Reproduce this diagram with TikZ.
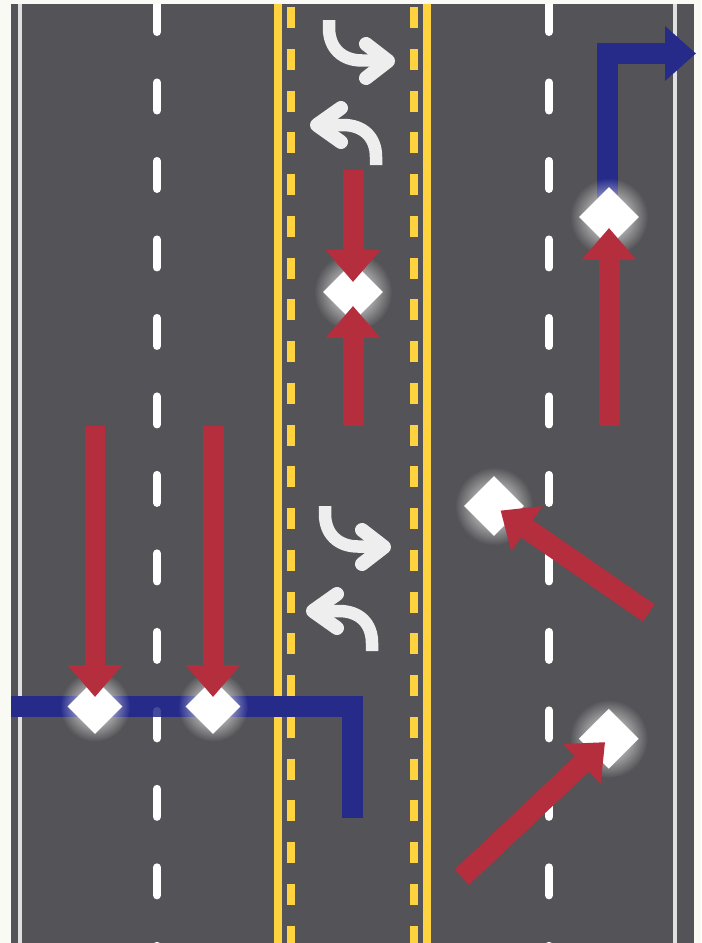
\documentclass[tikz,border=0pt]{standalone}
\usepackage{xcolor}
\usetikzlibrary{arrows.meta,shapes.geometric,fadings}
\definecolor{roadgray}{HTML}{545357}
\definecolor{roadbg}{HTML}{FAFAF5}
\definecolor{laneyellow}{HTML}{FFD23F}
\definecolor{turnwhite}{HTML}{EEEEEE}
\definecolor{conflictred}{HTML}{B42E3D}
\definecolor{movesblue}{HTML}{262B8A}
\tikzfading[name=glowfade, inner color=transparent!0, outer color=transparent!100]
\tikzstyle{edgeline} = [line width=0.07cm, white!88!black]
\tikzstyle{centerline} = [line width=0.16cm, laneyellow]
\tikzstyle{turndash} = [line width=0.15cm, laneyellow, dash pattern=on 0.42cm off 0.4154cm]
\tikzstyle{lanedash} = [line width=0.16cm, white, line cap=round, dash pattern=on 0.56cm off 1.01cm]
\tikzstyle{turnarrow} = [line width=0.25cm, turnwhite, line cap=butt]
\tikzstyle{turnhead} = [line width=0.28cm, turnwhite, line cap=round, line join=round]
\tikzstyle{redarrow} = [-{Triangle[length=0.64cm,width=1.06cm]}, line width=0.42cm, conflictred]
\tikzstyle{bluearrow} = [line width=0.42cm, movesblue, miter limit=10]
\tikzstyle{conflict} = [diamond, fill=white, inner sep=0pt, minimum width=1.2cm, minimum height=1.2cm]
\tikzstyle{conflictsm} = [conflict, minimum width=1.1cm, minimum height=1.1cm]
\begin{document}
\begin{tikzpicture}[x=0.02cm, y=-0.02cm]
\useasboundingbox (0,0) rectangle (701,943);
\fill[roadbg] (0,0) rectangle (701,943);
\fill[roadgray] (11,4) rectangle (694,943);

\begin{scope}
\clip (11,4) rectangle (694,943);
\draw[edgeline] (20,4) -- (20,943);
\draw[edgeline] (675,4) -- (675,943);
\foreach \x in {157,549}{
  \draw[lanedash] (\x,4) -- (\x,960);
}
\foreach \x in {278,427}{
  \draw[centerline] (\x,4) -- (\x,943);
}
\foreach \x in {291,414}{
  \draw[turndash] (\x,7) -- (\x,960);
}
\end{scope}

% two way left turn markings
\foreach \dx/\dy in {0/0,-4/486}{
  \begin{scope}[shift={(\dx,\dy)}]
  \draw[turnarrow] (329,20) -- (329,28) .. controls (329,48) and (342,60.5) .. (362,60.5) -- (386,60.5);
  \draw[turnhead] (366,44) -- (388,61) -- (366,78);
  \draw[turnarrow] (376,165) -- (376,157) .. controls (376,137) and (363,125) .. (343,125) -- (319,125);
  \draw[turnhead] (341,108) -- (317,125) -- (341,142);
  \end{scope}
}

% through movements
\coordinate (bluea) at (11,706.5);
\coordinate (blueb) at (352.5,706.5);
\coordinate (bluec) at (352.5,818);
\coordinate (blued) at (607.5,217);
\coordinate (bluee) at (607.5,53.5);
\coordinate (bluef) at (696,53.5);
\draw[bluearrow] (bluea) -- (blueb) -- (bluec);
\draw[bluearrow, -{Triangle[length=0.62cm,width=1.06cm]}] (blued) -- (bluee) -- (bluef);
\draw[lanedash, opacity=.15] (157,711) -- (157,717);

% conflict points
\foreach \name/\x/\y/\r/\sty in {mid/353/292/39/conflict,topright/609/217/39/conflict,drive/494/506/39/conflict,lowright/608.7/738.7/39/conflict,lowa/95/706.5/35/conflictsm,lowb/213/706.5/35/conflictsm}{
  \fill[white, path fading=glowfade] (\x,\y) circle[radius=\r];
  \node[\sty] (\name) at (\x,\y) {};
}

% tails of the crossing movements
\coordinate (midn) at (353,170);
\coordinate (mids) at (353,426);
\coordinate (toprights) at (609,426);
\coordinate (lowan) at (95,426);
\coordinate (lowbn) at (213,426);
\coordinate (drivee) at (648.7,613);
\coordinate (lowrightw) at (461.7,877.3);
\draw[redarrow, shorten >=0.2cm] (midn) -- (mid.center);
\draw[redarrow, shorten >=0.28cm] (mids) -- (mid.center);
\draw[redarrow, shorten >=0.22cm] (toprights) -- (topright.center);
\draw[redarrow, shorten >=0.19cm] (lowan) -- (lowa.center);
\draw[redarrow, shorten >=0.19cm] (lowbn) -- (lowb.center);
\draw[redarrow, shorten >=0.16cm] (drivee) -- (drive.center);
\draw[redarrow, shorten >=0.1cm] (lowrightw) -- (lowright.center);
\end{tikzpicture}
\end{document}
